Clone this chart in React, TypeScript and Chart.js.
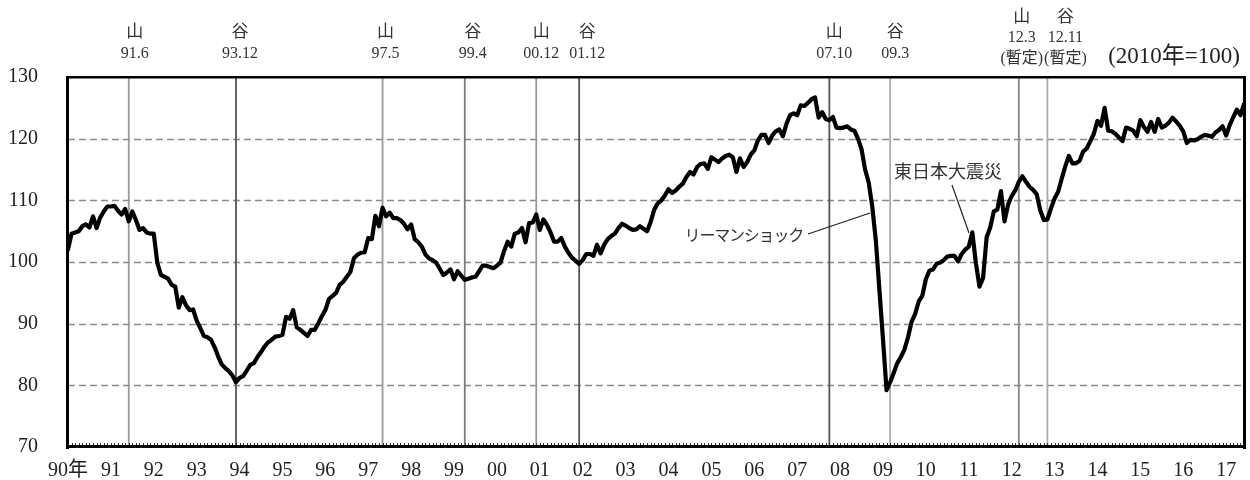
import React, { useEffect, useRef } from 'react';
import { Chart, registerables } from 'chart.js';

Chart.register(...registerables);

// ---- data (monthly, Jan 1990 – Jun 2017, 2010=100) ----
const yearLabels = ['90年', '91', '92', '93', '94', '95', '96', '97', '98', '99', '00', '01', '02', '03', '04', '05', '06', '07', '08', '09', '10', '11', '12', '13', '14', '15', '16', '17'];

const values1990s = [
  102.0, 104.6, 104.8, 105.0, 105.8, 106.1, 105.6, 107.4, 105.5, 107.2, 108.2, 109.0,
  109.0, 109.1, 108.3, 107.7, 108.6, 106.6, 108.2, 106.8, 105.2, 105.5, 104.8, 104.6,
  104.6, 99.8, 97.9, 97.6, 97.3, 96.3, 96.0, 92.6, 94.3, 93.0, 92.2, 92.3,
  90.5, 89.3, 88.0, 87.8, 87.4, 86.2, 84.7, 83.4, 82.8, 82.3, 81.6, 80.5,
  81.2, 81.5, 82.4, 83.3, 83.6, 84.6, 85.4, 86.3, 87.0, 87.4, 87.9, 88.0,
  88.2, 91.1, 90.8, 92.2, 89.4, 89.0, 88.5, 88.0, 89.0, 89.0, 90.0, 91.2,
  92.2, 94.0, 94.5, 95.0, 96.3, 96.8, 97.6, 98.4, 100.6, 101.2, 101.5, 101.6,
  103.9, 103.7, 107.5, 105.8, 108.8, 107.4, 108.0, 107.1, 107.1, 106.8, 106.2, 105.3,
  106.1, 103.7, 103.2, 102.5, 101.2, 100.6, 100.3, 99.9, 98.9, 97.9, 98.3, 98.8,
  97.2, 98.5, 97.8, 97.1, 97.3, 97.5, 97.6, 98.5, 99.4, 99.4, 99.2, 99.0,
];

const values2000s = [
  99.4, 99.9, 101.8, 103.3, 102.5, 104.6, 104.8, 105.5, 103.2, 106.3, 106.4, 107.7,
  105.2, 106.9, 106.0, 104.8, 103.3, 103.3, 103.9, 102.5, 101.5, 100.7, 100.2, 99.7,
  100.3, 101.3, 101.3, 101.0, 102.8, 101.4, 102.8, 103.7, 104.2, 104.6, 105.5, 106.2,
  105.9, 105.5, 105.2, 105.3, 105.8, 105.4, 105.0, 106.5, 108.5, 109.5, 110.0, 110.8,
  111.8, 111.2, 111.6, 112.2, 112.7, 113.8, 114.6, 114.2, 115.4, 115.9, 116.0, 115.1,
  117.0, 116.6, 116.2, 116.8, 117.2, 117.4, 117.0, 114.6, 116.8, 115.4, 116.2, 117.4,
  118.1, 119.7, 120.6, 120.6, 119.3, 120.5, 121.2, 121.5, 120.4, 122.4, 123.8, 124.1,
  123.8, 125.4, 125.3, 125.8, 126.4, 126.7, 123.4, 124.3, 123.2, 123.0, 123.5, 121.8,
  121.7, 121.8, 122.0, 121.5, 121.3, 120.0, 118.3, 115.0, 112.9, 109.0, 103.5, 95.5,
  87.5, 79.2, 80.5, 82.0, 83.6, 84.6, 85.8, 87.8, 90.3, 91.6, 93.6, 94.5,
];

const values2010s = [
  97.2, 98.6, 98.8, 99.7, 99.9, 100.3, 100.9, 101.0, 101.0, 100.1, 101.3, 102.0,
  102.5, 104.8, 99.8, 96.0, 97.4, 104.0, 105.6, 108.2, 108.5, 111.5, 106.6, 109.3,
  110.7, 111.6, 113.0, 113.9, 113.0, 112.2, 111.7, 111.0, 108.4, 106.8, 106.9, 108.7,
  110.3, 111.4, 113.5, 115.5, 117.2, 116.0, 116.0, 116.4, 117.9, 118.4, 119.6, 120.8,
  122.9, 122.1, 125.0, 121.3, 121.2, 120.8, 120.2, 119.6, 121.8, 121.6, 121.3, 120.4,
  123.0, 121.9, 121.1, 122.7, 121.1, 123.2, 121.8, 122.1, 122.6, 123.4, 122.8, 122.1,
  121.2, 119.3, 119.8, 119.7, 119.9, 120.3, 120.6, 120.5, 120.3, 121.0, 121.4, 122.0,
  120.5, 122.2, 123.5, 124.7, 123.8, 125.6,
];

const yTicks = [70, 80, 90, 100, 110, 120, 130];
const dashedGridValues = [80, 90, 100, 110, 120];

// business-cycle turning points (annotation)
const turningPoints = [
  { kind: '山', year: 1991, month: 6, dx: 6, tone: '#9a9a9a', provisional: false },
  { kind: '谷', year: 1993, month: 12, dx: 4, tone: '#555555', provisional: false },
  { kind: '山', year: 1997, month: 5, dx: 3, tone: '#9a9a9a', provisional: false },
  { kind: '谷', year: 1999, month: 4, dx: 8, tone: '#7a7a7a', provisional: false },
  { kind: '山', year: 2000, month: 12, dx: 5, tone: '#999999', provisional: false },
  { kind: '谷', year: 2001, month: 12, dx: 8, tone: '#555555', provisional: false },
  { kind: '山', year: 2007, month: 10, dx: 5, tone: '#555555', provisional: false },
  { kind: '谷', year: 2009, month: 3, dx: 5, tone: '#aaaaaa', provisional: false },
  { kind: '山', year: 2012, month: 3, dx: 3, tone: '#888888', provisional: true },
  { kind: '谷', year: 2012, month: 11, dx: 18, tone: '#aaaaaa', provisional: true },
];

const values = [...values1990s, ...values2000s, ...values2010s];
const monthLabels = values.map((_, i) => `${1990 + Math.floor(i / 12)}/${(i % 12) + 1}`);
const monthIndex = (year: number, month: number) => (year - 1990) * 12 + (month - 1);

const SERIF = "'Liberation Serif', 'Noto Sans CJK JP', serif";
const CJK = "'Noto Sans CJK JP', 'Liberation Serif', sans-serif";

const decorPlugin = {
  id: 'decor',
  beforeDatasetsDraw(chart: any) {
    const { ctx, chartArea: a, scales } = chart;
    const x = scales.x;
    const y = scales.y;
    ctx.save();
    // dashed horizontal grid
    ctx.strokeStyle = '#8a8a8a';
    ctx.lineWidth = 1.3;
    ctx.setLineDash([7, 4]);
    for (const v of dashedGridValues) {
      const py = Math.round(y.getPixelForValue(v)) + 0.5;
      ctx.beginPath();
      ctx.moveTo(a.left, py);
      ctx.lineTo(a.right, py);
      ctx.stroke();
    }
    ctx.setLineDash([]);
    // turning-point vertical lines
    for (const t of turningPoints) {
      const px = x.getPixelForValue(monthIndex(t.year, t.month));
      ctx.strokeStyle = t.tone;
      ctx.lineWidth = 1.8;
      ctx.beginPath();
      ctx.moveTo(px, a.top);
      ctx.lineTo(px, a.bottom);
      ctx.stroke();
    }
    ctx.restore();
  },
  afterDatasetsDraw(chart: any) {
    const { ctx, chartArea: a, scales } = chart;
    const x = scales.x;
    ctx.save();
    // monthly minor ticks along the bottom, inside
    ctx.strokeStyle = '#333';
    ctx.lineWidth = 1;
    for (let i = 0; i < values.length; i++) {
      const px = Math.round(x.getPixelForValue(i)) + 0.5;
      ctx.beginPath();
      ctx.moveTo(px, a.bottom);
      ctx.lineTo(px, a.bottom - 4);
      ctx.stroke();
    }
    // frame
    ctx.fillStyle = '#000';
    ctx.fillRect(a.left - 2, a.top - 1, a.right - a.left + 4, 2.5);
    ctx.fillRect(a.left - 2, a.bottom - 2, a.right - a.left + 4, 3);
    ctx.fillRect(a.left - 2, a.top - 1, 3, a.bottom - a.top + 3);
    ctx.fillRect(a.right - 1, a.top - 1, 3, a.bottom - a.top + 3);

    // turning-point labels
    ctx.textAlign = 'center';
    ctx.textBaseline = 'middle';
    for (const t of turningPoints) {
      const px = x.getPixelForValue(monthIndex(t.year, t.month)) + t.dx;
      const date = `${String(t.year % 100).padStart(2, '0')}.${t.month}`;
      const kanjiY = t.provisional ? 16 : 31;
      const dateY = t.provisional ? 38 : 54;
      ctx.fillStyle = '#333';
      ctx.font = `17px ${CJK}`;
      ctx.fillText(t.kind, px, kanjiY);
      ctx.font = `16px ${SERIF}`;
      ctx.fillText(date, px, dateY);
      if (t.provisional) {
        ctx.font = `16px ${SERIF}`;
        ctx.fillText('(暫定)', px, 59);
      }
    }
    // base note
    ctx.fillStyle = '#222';
    ctx.font = `23px ${SERIF}`;
    ctx.textAlign = 'right';
    ctx.fillText('(2010年=100)', 1240, 57);

    // event callouts
    ctx.fillStyle = '#333';
    ctx.font = `16px ${CJK}`;
    ctx.textAlign = 'right';
    (ctx as any).letterSpacing = '-1.2px';
    ctx.fillText('リーマンショック', 803, 235);
    (ctx as any).letterSpacing = '0px';
    ctx.textAlign = 'left';
    ctx.font = `18px ${CJK}`;
    ctx.fillText('東日本大震災', 894, 171);
    ctx.strokeStyle = '#222';
    ctx.lineWidth = 1.2;
    ctx.beginPath();
    ctx.moveTo(808, 234);
    ctx.lineTo(870, 213);
    ctx.stroke();
    ctx.beginPath();
    ctx.moveTo(952, 185);
    ctx.lineTo(969, 233);
    ctx.stroke();
    ctx.restore();
  },
};

export default function App() {
  const ref = useRef<HTMLCanvasElement>(null);
  useEffect(() => {
    document.body.style.margin = '0';
    const chart = new Chart(ref.current as HTMLCanvasElement, {
      type: 'line',
      data: {
        labels: monthLabels,
        datasets: [
          {
            data: values,
            borderColor: '#000',
            borderWidth: 4.2,
            pointRadius: 0,
            tension: 0,
            borderJoinStyle: 'round',
            borderCapStyle: 'round',
            fill: false,
          },
        ],
      },
      options: {
        animation: false,
        responsive: false,
        maintainAspectRatio: false,
        devicePixelRatio: 1,
        layout: { padding: { top: 77, right: 6, left: 0, bottom: 0 } },
        plugins: { legend: { display: false }, tooltip: { enabled: false } },
        scales: {
          x: {
            type: 'category',
            offset: false,
            grid: { display: false, drawTicks: false },
            border: { display: false },
            afterFit: (s: any) => {
              s.height = 33;
              s.paddingLeft = 0;
              s.paddingRight = 0;
            },
            ticks: {
              autoSkip: false,
              maxRotation: 0,
              minRotation: 0,
              padding: 12,
              color: '#222',
              font: { family: SERIF, size: 20 },
              callback: (_v: any, i: number) => (i % 12 === 0 ? yearLabels[i / 12] : ''),
            },
          },
          y: {
            min: 70,
            max: 130,
            afterFit: (s: any) => {
              s.width = 68;
              s.paddingTop = 0;
              s.paddingBottom = 0;
            },
            afterBuildTicks: (s: any) => {
              s.ticks = yTicks.map((v) => ({ value: v }));
            },
            grid: { display: false, drawTicks: false },
            border: { display: false },
            ticks: {
              padding: 30,
              color: '#222',
              font: { family: SERIF, size: 20 },
            },
          },
        },
      },
      plugins: [decorPlugin],
    } as any);
    return () => chart.destroy();
  }, []);
  return (
    <div style={{ width: 1250, height: 480 }}>
      <canvas ref={ref} width={1250} height={480} style={{ display: 'block', width: '1250px', height: '480px' }} />
    </div>
  );
}
